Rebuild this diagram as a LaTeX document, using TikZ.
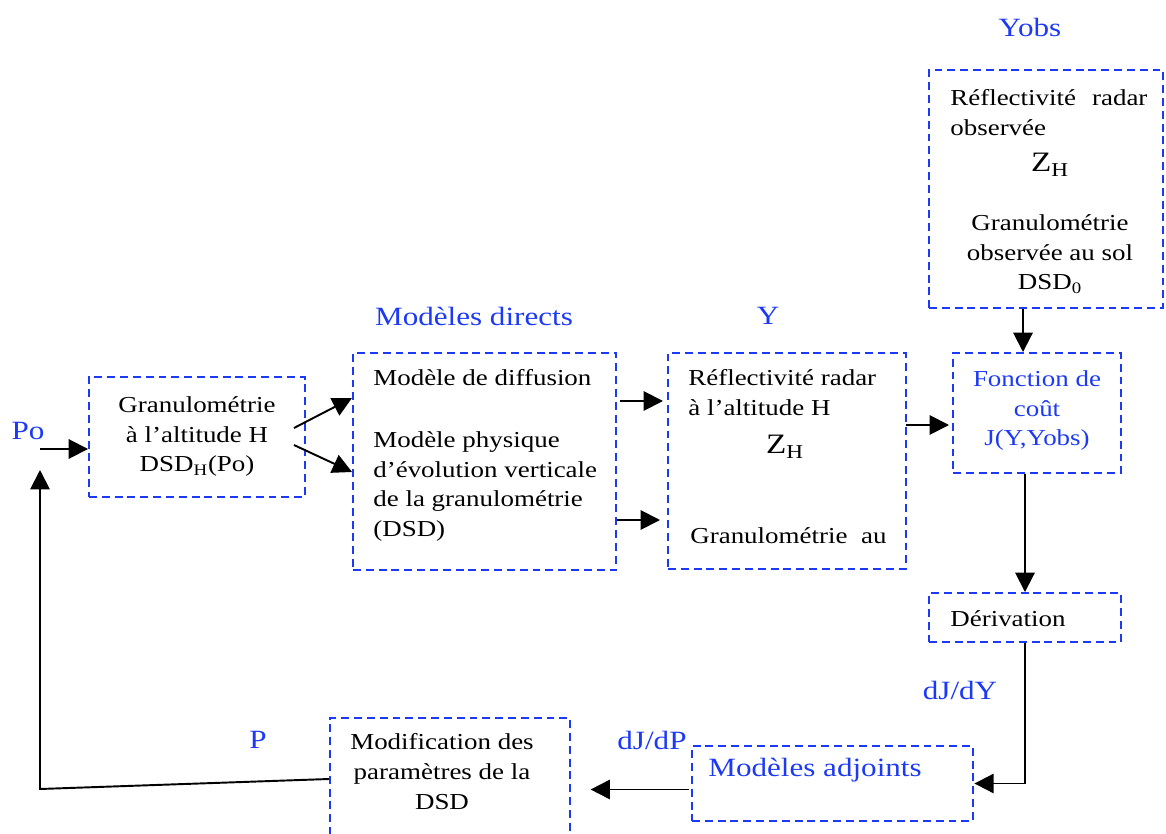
\documentclass[tikz,border=0pt]{standalone}
\usepackage{fontspec}
\setmainfont{Liberation Serif}[FakeStretch=1.18]
\usepackage{tikz}
\usetikzlibrary{fit}
\usetikzlibrary{calc}
\usetikzlibrary{arrows.meta}
\usetikzlibrary{positioning}
\definecolor{boxblue}{RGB}{28,58,245}
\tikzset{%
  boxcol/.style={rectangle,draw=boxblue,dash pattern=on 4.5pt off 2.8pt,line width=1.1pt,inner sep=0pt},
  bluelab/.style={text=boxblue,inner sep=0pt,font=\fontsize{15}{18}\selectfont},
  txt/.style={inner sep=0pt,font=\fontsize{13}{17}\selectfont},
  arr/.style={line width=1.1pt,-{Triangle[length=11pt,width=11pt]}}
}
\newcommand\zh{{\fontsize{16}{18}\selectfont Z\textsubscript{H}}}

\begin{document}
\begin{tikzpicture}[x=0.02cm,y=-0.02cm]
  \useasboundingbox (0,0) rectangle (1166,834);
  % boxes
  \node[boxcol,fit={(929,70) (1163,308)}](obs){};
  \node[boxcol,fit={(953,353) (1121,473)}](fonc){};
  \node[boxcol,fit={(929,593) (1121,642)}](deriv){};
  \node[boxcol,fit={(89,377) (305,497)}](gran){};
  \node[boxcol,fit={(353,353) (616,570)}](direct){};
  \node[boxcol,fit={(668,353) (906,569)}](ybox){};
  \node[boxcol,line width=1.6pt,fit={(692,746) (973,821)}](adj){};
  \node[boxcol,fit={(330,718) (570,860)}](modif){};
  % blue labels
  \node[bluelab](yobslab) at (1030,27){Yobs};
  \node[bluelab](directlab) at (474,316){Modèles directs};
  \node[bluelab](ylab) at (768,316){Y};
  \node[bluelab](polab) at (28,431){Po};
  \node[bluelab](plab) at (258,740){P};
  \node[bluelab](dpdlab) at (652,740){dJ/dP};
  \node[bluelab](dydlab) at (960,690){dJ/dY};
  % texts
  \node[txt,anchor=north west,align=left](obstxt) at (950,89){Réflectivité\hspace{0.7em}radar\\observée};
  \node[txt](obszh) at (1050,165){\zh};
  \node[txt,anchor=north,align=center](obsgran) at (1050,214){Granulométrie\\observée au sol\\DSD\textsubscript{0}};
  \node[txt,anchor=north,align=center,text=boxblue](fonctxt) at (1037,370){Fonction de\\coût\\J(Y,Yobs)};
  \node[txt,anchor=west](derivtxt) at (950,619){Dérivation};
  \node[txt,anchor=north,align=center](grantxt) at (197,396){Granulométrie\\à l’altitude H\\DSD\textsubscript{H}(Po)};
  \node[txt,anchor=north west](diffus) at (373,369){Modèle de diffusion};
  \node[txt,anchor=north west,align=left](physique) at (373,431){Modèle physique\\d’évolution verticale\\de la granulométrie\\(DSD)};
  \node[txt,anchor=north west,align=left](refl) at (688,369){Réflectivité radar\\à l’altitude H};
  \node[txt](yzh) at (785,447){\zh};
  \node[txt,anchor=north west](ygran) at (690,527){Granulométrie\hspace{0.6em}au};
  \node[txt,anchor=north,align=center](modiftxt) at (442,733){Modification des\\paramètres de la\\DSD};
  \node[bluelab,anchor=west](adjtxt) at (708,770){Modèles adjoints};
  % connectors
  \draw[arr] ($(obs.south)+(-23,0)$) -- ($(fonc.north)+(-14,0)$);
  \draw[arr] ($(fonc.south)+(-12,0)$) -- (deriv.north);
  \draw[arr] (deriv.south) |- (adj.east);
  \draw[arr] ($(adj.west)+(-2,6)$) -- ++(-98,0);
  \coordinate (back) at (40,789);
  \draw[arr] ($(modif.west)+(0,-10)$) -- (back) -- (40,470);
  \draw[arr] (40,449) -- (gran.west |- 0,449);
  \draw[arr] ($(gran.east)+(-12,-9)$) -- (352,398);
  \draw[arr] ($(gran.east)+(-12,8)$) -- (352,472);
  \draw[arr] (620,401) -- (663,401);
  \draw[arr] (617,520) -- (660,520);
  \draw[arr] (906,425) -- (949,425);
\end{tikzpicture}
\end{document}
